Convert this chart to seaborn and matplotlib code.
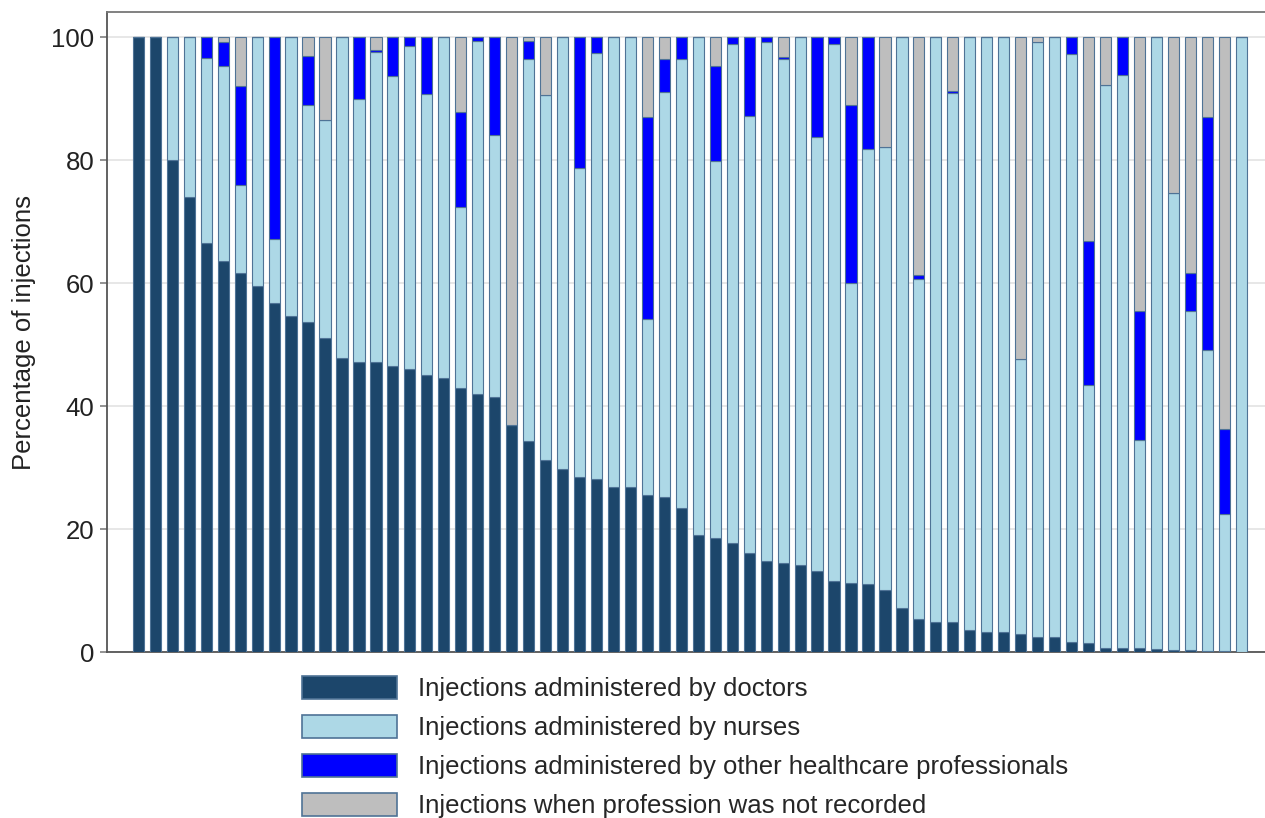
import numpy as np
import pandas as pd
import matplotlib
matplotlib.use("Agg")
import matplotlib.pyplot as plt
from matplotlib.patches import Patch
import seaborn as sns

doctors = [100, 100, 80.0, 74.0, 66.5, 63.6, 61.6, 59.6, 56.7, 54.7, 53.6, 51.1, 47.8, 47.2, 47.2, 46.5,
           46.1, 45.0, 44.5, 43.0, 42.0, 41.4, 37.0, 34.4, 31.2, 29.7, 28.5, 28.2, 26.9, 26.9, 25.5, 25.2, 23.5,
           19.0, 18.6, 17.7, 16.1, 14.8, 14.5, 14.1, 13.2, 11.5, 11.3, 11.1, 10.1, 7.2, 5.3, 4.9, 4.9, 3.6,
           3.2, 3.2, 2.9, 2.4, 2.4, 1.7, 1.5, 0.7, 0.7, 0.7, 0.5, 0.3, 0.3, 0.2, 0.2, 0.0]
nurses = [0, 0, 20.0, 26.0, 30.1, 31.7, 14.3, 40.4, 10.4, 45.3, 35.3, 35.5, 52.2, 42.7, 50.4, 47.2,
          52.4, 45.8, 55.5, 29.4, 57.4, 42.7, 0, 62.0, 59.4, 70.3, 50.3, 69.3, 73.1, 73.1, 28.7, 65.9, 72.9,
          81.0, 61.2, 81.2, 71.1, 84.4, 82.0, 85.9, 70.5, 87.4, 48.8, 70.7, 72.1, 92.8, 55.4, 95.1, 86.0, 96.4,
          96.8, 96.8, 44.8, 96.8, 97.6, 95.5, 42.0, 91.5, 93.1, 33.8, 99.5, 74.3, 55.2, 48.9, 22.2, 100.0]
other = [0, 0, 0, 0, 3.4, 3.9, 16.1, 0, 32.9, 0, 8.1, 0, 0, 10.1, 0.4, 6.3,
         1.5, 9.2, 0, 15.5, 0.6, 15.9, 0, 3.0, 0, 0, 21.2, 2.5, 0, 0, 32.8, 5.4, 3.6,
         0, 15.5, 1.1, 12.8, 0.8, 0.3, 0, 16.3, 1.1, 28.8, 18.2, 0, 0, 0.6, 0, 0.3, 0,
         0, 0, 0, 0, 0, 2.8, 23.3, 0, 6.2, 21.0, 0, 0, 6.1, 37.9, 13.9, 0]
not_recorded = [0, 0, 0, 0, 0, 0.8, 8.0, 0, 0, 0, 3.0, 13.4, 0, 0, 2.0, 0,
                0, 0, 0, 12.1, 0, 0, 63.0, 0.6, 9.4, 0, 0, 0, 0, 0, 13.0, 3.5, 0,
                0, 4.7, 0, 0, 0, 3.2, 0, 0, 0, 11.1, 0, 17.8, 0, 38.7, 0, 8.8, 0,
                0, 0, 52.3, 0.8, 0, 0, 33.2, 7.8, 0, 44.5, 0, 25.4, 38.4, 13.0, 63.7, 0]

labels = ["Injections administered by doctors",
          "Injections administered by nurses",
          "Injections administered by other healthcare professionals",
          "Injections when profession was not recorded"]
colors = ["#1C466B", "#ADD8E6", "#0000FF", "#BEBEBE"]
yticks = [0, 20, 40, 60, 80, 100]

series = [doctors, nurses, other, not_recorded]
n = len(doctors)
units = list(range(n))

sns.set_theme(style="white")
plt.rcParams['font.family'] = ['Liberation Sans', 'DejaVu Sans']

FS = 18.5
fig = plt.figure(figsize=(12.65, 8.18), dpi=100)
ax = fig.add_axes([107/1265, 1 - 652/818, 1 - 107/1265, (652 - 12)/818])

bottom = np.zeros(n)
for vals, col, lab in zip(series, colors, labels):
    vals = np.asarray(vals, dtype=float)
    df = pd.DataFrame({"unit": units, "value": vals})
    sns.barplot(data=df, x="unit", y="value", order=units, color=col, saturation=1,
                width=0.66, bottom=bottom.copy(), edgecolor="#4F7396", linewidth=0.8,
                errorbar=None, ax=ax, zorder=3)
    bottom = bottom + vals

ax.set_xlim(-1.85, n - 1 + 1.4)
ax.set_ylim(0, 104.1)
ax.set_yticks(yticks)
ax.set_yticklabels([str(t) for t in yticks], fontsize=FS, color="#222222")
ax.set_xticks([])
ax.set_xlabel("")
ax.set_ylabel("Percentage of injections", fontsize=FS, color="#222222", labelpad=11)
ax.yaxis.grid(True, color="#E3E3E3", linewidth=1.2, zorder=0)
ax.set_axisbelow(True)
ax.tick_params(axis="y", left=True, length=5, width=1.2, color="#808080", pad=4)
for s in ["left", "top", "bottom"]:
    ax.spines[s].set_visible(True)
    ax.spines[s].set_color("#555555")
    ax.spines[s].set_linewidth(1.3)
ax.spines["top"].set_color("#777777")
ax.spines["right"].set_visible(False)

handles = [Patch(facecolor=c, edgecolor="#4F7396", linewidth=1.2, label=l) for c, l in zip(colors, labels)]
fig.legend(handles=handles, loc="upper left", bbox_to_anchor=(302/1265, 1 - 676/818),
           frameon=False, fontsize=FS, handlelength=3.7, handleheight=1.0,
           handletextpad=0.8, labelspacing=0.53, borderpad=0, borderaxespad=0)

fig.savefig("out.png", dpi=100)
